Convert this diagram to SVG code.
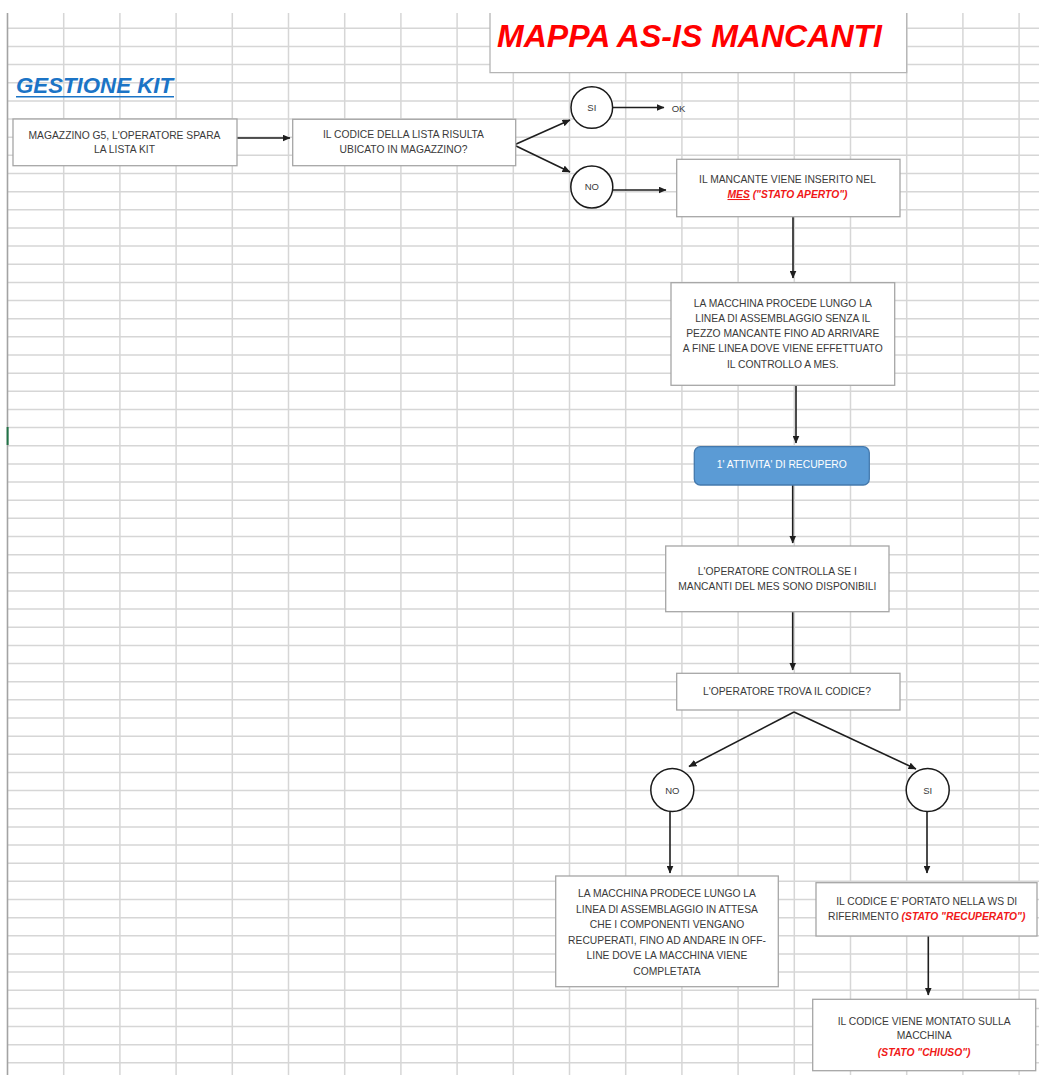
<svg xmlns="http://www.w3.org/2000/svg" width="1039" height="1075" viewBox="0 0 1039 1075">
  <style>
    .grid { stroke: #d6d6d6; stroke-width: 1.5; fill: none; }
    .border { stroke: #a3a3a3; stroke-width: 1.6; fill: none; }
    .box { fill: #ffffff; stroke: #a6a6a6; stroke-width: 1.3; }
    .circ { fill: #ffffff; stroke: #1a1a1a; stroke-width: 1.5; }
    .btn { fill: #5b9bd5; stroke: #4479ad; stroke-width: 1.3; }
    .t { font-family: "Liberation Sans", Arial, sans-serif; font-size: 10.3px; fill: #3a3a3a; text-anchor: middle; }
    .c { font-size: 9.5px; }
    .red { fill: #f01818; font-weight: bold; font-style: italic; }
    .w { fill: #ffffff; }
    .conn { stroke: #1e1e1e; stroke-width: 1.6; fill: none; marker-end: url(#arr); }
  </style>
  <defs>
    <marker id="arr" markerUnits="userSpaceOnUse" markerWidth="8" markerHeight="7" refX="7.5" refY="3.5" orient="auto">
      <path d="M0,0 L8,3.5 L0,7 Z" fill="#1e1e1e"/>
    </marker>
  </defs>

  <rect width="1039" height="1075" fill="#ffffff"/>

  <!-- spreadsheet grid -->
  <g id="grid">
    <path class="grid" d="M63.7 13V1075M119.9 13V1075M176.1 13V1075M232.3 13V1075M288.5 13V1075M344.7 13V1075M400.9 13V1075M457.1 13V1075M513.3 13V1075M569.5 13V1075M625.7 13V1075M681.9 13V1075M738.1 13V1075M794.3 13V1075M850.5 13V1075M906.7 13V1075M962.9 13V1075M1019.1 13V1075"/>
    <path class="grid" d="M7.5 28.3H1039M7.5 46.45H1039M7.5 64.6H1039M7.5 82.75H1039M7.5 100.9H1039M7.5 119.05H1039M7.5 137.2H1039M7.5 155.35H1039M7.5 173.5H1039M7.5 191.65H1039M7.5 209.8H1039M7.5 227.95H1039M7.5 246.1H1039M7.5 264.25H1039M7.5 282.4H1039M7.5 300.55H1039M7.5 318.7H1039M7.5 336.85H1039M7.5 355H1039M7.5 373.15H1039M7.5 391.3H1039M7.5 409.45H1039M7.5 427.6H1039M7.5 445.75H1039M7.5 463.9H1039M7.5 482.05H1039M7.5 500.2H1039M7.5 518.35H1039M7.5 536.5H1039M7.5 554.65H1039M7.5 572.8H1039M7.5 590.95H1039M7.5 609.1H1039M7.5 627.25H1039M7.5 645.4H1039M7.5 663.55H1039M7.5 681.7H1039M7.5 699.85H1039M7.5 718H1039M7.5 736.15H1039M7.5 754.3H1039M7.5 772.45H1039M7.5 790.6H1039M7.5 808.75H1039M7.5 826.9H1039M7.5 845.05H1039M7.5 863.2H1039M7.5 881.35H1039M7.5 899.5H1039M7.5 917.65H1039M7.5 935.8H1039M7.5 953.95H1039M7.5 972.1H1039M7.5 990.25H1039M7.5 1008.4H1039M7.5 1026.55H1039M7.5 1044.7H1039M7.5 1062.85H1039"/>
    <path class="border" d="M7.5 13V1075"/>
    <rect x="6.6" y="427" width="2" height="18" fill="#217346"/>
  </g>

  <!-- headings -->
  <g id="title">
    <rect x="490" y="0" width="416.7" height="72.7" fill="#ffffff"/>
    <path d="M490 13V72.7H906.7V13" fill="none" stroke="#b4b4b4" stroke-width="1.3"/>
    <text x="497" y="47" font-family="Liberation Sans, Arial, sans-serif" font-size="31.7" font-weight="bold" font-style="italic" fill="#ff0000" textLength="385" lengthAdjust="spacingAndGlyphs">MAPPA AS-IS MANCANTI</text>
  </g>
  <g id="section">
    <text x="16" y="92.7" font-family="Liberation Sans, Arial, sans-serif" font-size="22" font-weight="bold" font-style="italic" fill="#1b74c6" textLength="157" lengthAdjust="spacingAndGlyphs">GESTIONE KIT</text>
    <rect x="16" y="96" width="158" height="1.5" fill="#1b74c6"/>
  </g>

  <!-- connectors -->
  <g id="connectors">
    <line class="conn" x1="237" y1="138" x2="290" y2="138"/>
    <line class="conn" x1="514" y1="145" x2="570" y2="120"/>
    <line class="conn" x1="514" y1="145" x2="570" y2="172"/>
    <line class="conn" x1="613" y1="107.5" x2="664" y2="107.5"/>
    <line class="conn" x1="613" y1="190" x2="666" y2="190"/>
    <line class="conn" x1="793" y1="217" x2="793" y2="278"/>
    <line class="conn" x1="796" y1="385.5" x2="796" y2="443"/>
    <line class="conn" x1="792.7" y1="485" x2="792.7" y2="543"/>
    <line class="conn" x1="792.7" y1="612" x2="792.7" y2="670"/>
    <line class="conn" x1="794" y1="712" x2="689" y2="766.5"/>
    <line class="conn" x1="794" y1="712" x2="916" y2="769"/>
    <line class="conn" x1="670" y1="812" x2="670" y2="873"/>
    <line class="conn" x1="927" y1="812" x2="927" y2="873"/>
    <line class="conn" x1="928.3" y1="936" x2="928.3" y2="995"/>
  </g>

  <!-- nodes -->
  <g id="n-magazzino">
    <rect class="box" x="13" y="119" width="224" height="46.7"/>
    <text class="t" x="124.5" y="139.3">MAGAZZINO G5, L'OPERATORE SPARA</text>
    <text class="t" x="124.5" y="152.6">LA LISTA KIT</text>
  </g>
  <g id="n-ubicato">
    <rect class="box" x="292.7" y="119.3" width="223" height="46.4"/>
    <text class="t" x="403.5" y="138.4">IL CODICE DELLA LISTA RISULTA</text>
    <text class="t" x="403.5" y="152.5">UBICATO IN MAGAZZINO?</text>
  </g>
  <g id="n-si-1">
    <circle class="circ" cx="591.8" cy="107.5" r="20.8"/>
    <text class="t c" x="591.8" y="111">SI</text>
  </g>
  <g id="n-ok">
    <text class="t c" x="671.7" y="111.8" style="text-anchor:start">OK</text>
  </g>
  <g id="n-no-1">
    <circle class="circ" cx="591.8" cy="187" r="21"/>
    <text class="t c" x="591.8" y="190.3">NO</text>
  </g>
  <g id="n-mes">
    <rect class="box" x="676.7" y="159.3" width="223.3" height="57.4"/>
    <text class="t" x="787.5" y="183.3">IL MANCANTE VIENE INSERITO NEL</text>
    <text class="t red" x="787.5" y="198"><tspan text-decoration="underline">MES</tspan> ("STATO APERTO")</text>
  </g>
  <g id="n-procede">
    <rect class="box" x="671" y="282.7" width="223.7" height="102.6"/>
    <text class="t" x="782.8" y="306.7">LA MACCHINA PROCEDE LUNGO LA</text>
    <text class="t" x="782.8" y="321.8">LINEA DI ASSEMBLAGGIO SENZA IL</text>
    <text class="t" x="782.8" y="336.9">PEZZO MANCANTE FINO AD ARRIVARE</text>
    <text class="t" x="782.8" y="352.2">A FINE LINEA DOVE VIENE EFFETTUATO</text>
    <text class="t" x="782.8" y="367.6">IL CONTROLLO A MES.</text>
  </g>
  <g id="n-recupero">
    <rect class="btn" x="694.3" y="446.7" width="175" height="38.3" rx="6"/>
    <text class="t w" x="781.8" y="468.3">1' ATTIVITA' DI RECUPERO</text>
  </g>
  <g id="n-controlla">
    <rect class="box" x="665.7" y="546" width="223.3" height="65.7"/>
    <text class="t" x="777.3" y="575">L'OPERATORE CONTROLLA SE I</text>
    <text class="t" x="777.3" y="589.7">MANCANTI DEL MES SONO DISPONIBILI</text>
  </g>
  <g id="n-trova">
    <rect class="box" x="676.7" y="673.3" width="223.3" height="36.7"/>
    <text class="t" x="787" y="695">L'OPERATORE TROVA IL CODICE?</text>
  </g>
  <g id="n-no-2">
    <circle class="circ" cx="672.3" cy="790" r="21.5"/>
    <text class="t c" x="672.3" y="793.6">NO</text>
  </g>
  <g id="n-si-2">
    <circle class="circ" cx="927.7" cy="790" r="21.5"/>
    <text class="t c" x="927.7" y="793.6">SI</text>
  </g>
  <g id="n-offline">
    <rect class="box" x="555.7" y="876" width="222.6" height="110.7"/>
    <text class="t" x="667" y="897.3">LA MACCHINA PRODECE LUNGO LA</text>
    <text class="t" x="667" y="912.5">LINEA DI ASSEMBLAGGIO IN ATTESA</text>
    <text class="t" x="667" y="927.9">CHE I COMPONENTI VENGANO</text>
    <text class="t" x="667" y="943.8">RECUPERATI, FINO AD ANDARE IN OFF-</text>
    <text class="t" x="667" y="959.1">LINE DOVE LA MACCHINA VIENE</text>
    <text class="t" x="667" y="975">COMPLETATA</text>
  </g>
  <g id="n-recuperato">
    <rect class="box" x="816" y="882.7" width="221" height="53.3"/>
    <text class="t" x="926.7" y="905">IL CODICE E' PORTATO NELLA WS DI</text>
    <text class="t" x="926.7" y="919.6">RIFERIMENTO <tspan class="red">(STATO "RECUPERATO")</tspan></text>
  </g>
  <g id="n-chiuso">
    <rect class="box" x="812.7" y="999.3" width="223" height="71.4"/>
    <text class="t" x="924.2" y="1025">IL CODICE VIENE MONTATO SULLA</text>
    <text class="t" x="924.2" y="1038.6">MACCHINA</text>
    <text class="t red" x="924.2" y="1056">(STATO "CHIUSO")</text>
  </g>
</svg>
